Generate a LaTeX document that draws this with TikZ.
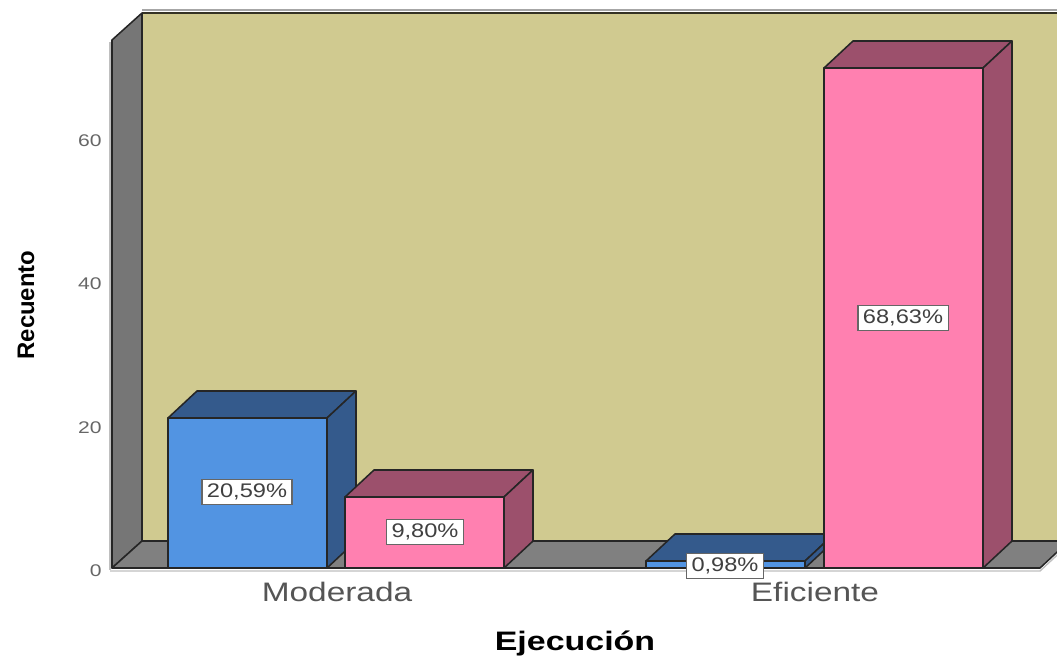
\documentclass[tikz,border=0pt]{standalone}
\usepackage{fontspec}
\setmainfont{Liberation Sans}
\usepackage{tikz}
\usetikzlibrary{positioning}
\definecolor{wallc}{RGB}{208,202,144}
\definecolor{sidegray}{RGB}{118,118,118}
\definecolor{floorgray}{RGB}{128,128,128}
\definecolor{bluefront}{RGB}{82,148,226}
\definecolor{bluedark}{RGB}{52,90,140}
\definecolor{pinkfront}{RGB}{255,128,176}
\definecolor{pinkdark}{RGB}{156,80,108}
\definecolor{edgec}{RGB}{38,38,38}
\definecolor{labelc}{RGB}{85,85,85}

\begin{document}
\begin{tikzpicture}[x=0.025cm, y=0.025cm]
\tikzstyle{every node}+=[inner sep=0pt]
\tikzstyle{face}=[draw=edgec, line width=1.1pt, line join=round]
\tikzstyle{pct}=[fill=white, draw=gray!80!black, line width=0.9pt, inner xsep=3pt, inner ysep=3pt, text=black!75, font=\fontsize{14}{14}\selectfont, xscale=1.2]
\tikzstyle{tick}=[anchor=east, text=black!60, font=\fontsize{12}{12}\selectfont, xscale=1.25]
\tikzstyle{cat}=[text=labelc, font=\fontsize{19}{19}\selectfont, xscale=1.25]
\useasboundingbox (0,0) rectangle (1057,-656);
\clip (0,0) rectangle (1057,-656);
% walls and floor
\fill [wallc] (142,-13) rectangle (1080,-541);
\draw [gray!70, line width=1pt] (142,-10) -- (1080,-10);
\draw [black!75!wallc, line width=1.4pt] (142,-13) -- (1080,-13);
\draw [face, fill=sidegray] (112,-40) -- (142,-13) -- (142,-541) -- (112,-568) -- cycle;
\draw [gray!50, line width=1pt] (110,-42) -- (110,-570);
\draw [face, fill=floorgray] (112,-568) -- (142,-541) -- (1080,-541) -- (1069,-541) -- (1040,-568) -- cycle;
\draw [gray!50, line width=1pt] (110,-571) -- (1040,-571) -- (1069,-544);
% Moderada, blue
\draw [face, fill=bluefront] (168,-568) rectangle (327,-418);
\draw [face, fill=bluedark] (168,-418) -- (197,-391) -- (356,-391) -- (327,-418) -- cycle;
\draw [face, fill=bluedark] (327,-418) -- (356,-391) -- (356,-541) -- (327,-568) -- cycle;
% Moderada, pink
\draw [face, fill=pinkfront] (345,-568) rectangle (504,-497);
\draw [face, fill=pinkdark] (345,-497) -- (374,-470) -- (533,-470) -- (504,-497) -- cycle;
\draw [face, fill=pinkdark] (504,-497) -- (533,-470) -- (533,-541) -- (504,-568) -- cycle;
% Eficiente, blue
\draw [face, fill=bluefront] (646,-568) rectangle (805,-561);
\draw [face, fill=bluedark] (646,-561) -- (675,-534) -- (834,-534) -- (805,-561) -- cycle;
\draw [face, fill=bluedark] (805,-561) -- (834,-534) -- (834,-541) -- (805,-568) -- cycle;
% Eficiente, pink
\draw [face, fill=pinkfront] (824,-568) rectangle (983,-68);
\draw [face, fill=pinkdark] (824,-68) -- (853,-41) -- (1012,-41) -- (983,-68) -- cycle;
\draw [face, fill=pinkdark] (983,-68) -- (1012,-41) -- (1012,-541) -- (983,-568) -- cycle;
% value labels
\node [pct] (pmb) at (247,-492) {20,59\%};
\node [pct] (pmp) at (425,-532) {9,80\%};
\node [pct] (peb) at (725,-566) {0,98\%};
\node [pct] (pep) at (903,-318) {68,63\%};
% axis
\node [tick] (t0) at (102,-571) {0};
\node [tick] (t20) at (102,-428) {20};
\node [tick] (t40) at (102,-284) {40};
\node [tick] (t60) at (102,-141) {60};
\node [cat] (cmod) at (337,-592) {Moderada};
\node [cat] (cefi) at (815,-592) {Eficiente};
\node [font=\bfseries\fontsize{19}{19}\selectfont, xscale=1.27] (xlab) at (575,-643) {Ejecución};
\node [font=\bfseries\fontsize{17}{17}\selectfont, rotate=90] (ylab) at (26,-305) {Recuento};
\end{tikzpicture}
\end{document}
